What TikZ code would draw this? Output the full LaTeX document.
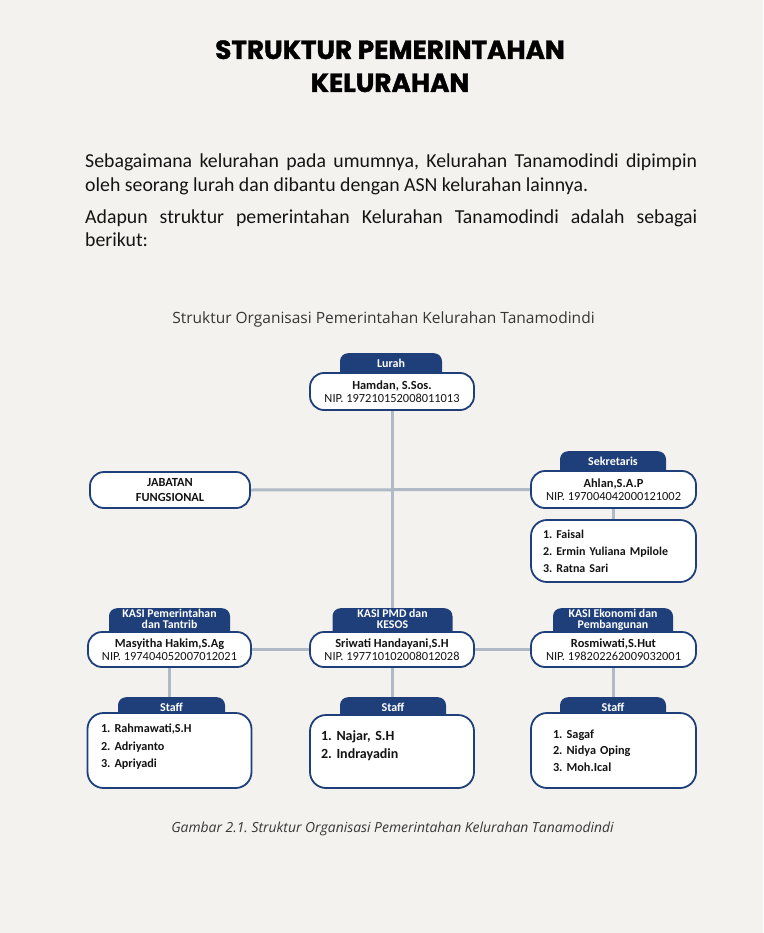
\documentclass[tikz,border=0pt]{standalone}
\usepackage{fontspec}
\setmainfont{Carlito}
\newfontfamily\titlefont{Poppins}[BoldFeatures={FakeBold=1.3}]
\newfontfamily\opensans{Open Sans}
\usepackage{xcolor}
\definecolor{kelNavy}  {RGB}{ 31,  63, 122}
\definecolor{kelPaper} {RGB}{243, 242, 238}
\definecolor{kelLink}  {RGB}{176, 186, 198}
\definecolor{kelInk}   {RGB}{ 20,  20,  20}
\usetikzlibrary{backgrounds}
\frenchspacing

\begin{document}
\begin{tikzpicture}[
  x=1pt, y=-1pt,
  tab/.style={fill=kelNavy, text=white, rounded corners=8pt, inner sep=0pt,
              anchor=north, align=center,
              font=\bfseries\fontsize{12}{12}\selectfont,
              text height=14pt, text depth=17pt},
  tabtwo/.style={tab, font=\bfseries\fontsize{11.8}{11}\selectfont,
                 text height=20.5pt, text depth=14pt},
  unit/.style={draw=kelNavy, line width=1.8pt, fill=white, rounded corners=14pt,
               minimum width=164pt, minimum height=37pt, inner sep=0pt,
               align=center, text=kelInk, font=\fontsize{12.4}{13.5}\selectfont},
  staff/.style={unit, align=left, rounded corners=16pt,
                font=\bfseries\fontsize{12}{17}\selectfont},
  link/.style={draw=kelLink, line width=3pt},
]
  % page
  \begin{pgfonlayer}{background}
    \fill[kelPaper] (0,0) rectangle (763,933);
  \end{pgfonlayer}
  \useasboundingbox (0,0) rectangle (763,933);

  % heading and intro text
  \node[anchor=base, align=center, inner sep=0pt, text=black,
        font=\titlefont\bfseries\fontsize{26.3}{33}\selectfont]
        (title) at (390,92) {STRUKTUR PEMERINTAHAN\\KELURAHAN};
  \node[anchor=base west, text width=612pt, align=justify, inner sep=0pt, text=kelInk,
        font=\fontsize{19.8}{24}\selectfont] (intro) at (85,168)
        {\hyphenpenalty=10000 Sebagaimana kelurahan pada umumnya, Kelurahan Tanamodindi dipimpin\linebreak
         oleh seorang lurah dan dibantu dengan ASN kelurahan lainnya.\par\vspace{7pt}
         Adapun struktur pemerintahan Kelurahan Tanamodindi adalah sebagai\linebreak berikut:};
  \node[anchor=base, inner sep=0pt, text=kelInk!85,
        font=\opensans\fontsize{15.5}{18}\selectfont]
        (charttitle) at (383.5,323.5) {Struktur Organisasi Pemerintahan Kelurahan Tanamodindi};

  % Lurah
  \node[tab, minimum width=102pt] (lurahT) at (391,353) {Lurah};
  \node[unit] (lurah) at (392,391.5) {\textbf{Hamdan, S.Sos.}\\NIP. 197210152008011013};

  % Jabatan fungsional and Sekretaris
  \node[unit, minimum width=160pt, minimum height=36pt, font=\bfseries\fontsize{12.4}{15}\selectfont]
        (jab) at (170,490) {JABATAN\\FUNGSIONAL};
  \node[tab, minimum width=106pt] (sekT) at (613,451) {Sekretaris};
  \node[unit, minimum width=165pt] (sek) at (613.5,489.5) {\textbf{Ahlan,S.A.P}\\NIP. 197004042000121002};
  \node[staff, text width=141pt, inner xsep=12pt, minimum height=62pt] (sekStaff) at (613.5,551)
        {1. Faisal\\2. Ermin Yuliana Mpilole\\3. Ratna Sari};

  % KASI row
  \node[tabtwo, minimum width=121pt] (kasiLT) at (169.5,608) {KASI Pemerintahan\\dan Tantrib};
  \node[tabtwo, minimum width=120pt] (kasiMT) at (392.5,608) {KASI PMD dan\\KESOS};
  \node[tabtwo, minimum width=120pt] (kasiRT) at (613,608) {KASI Ekonomi dan\\Pembangunan};
  \node[unit, minimum width=163pt, minimum height=35pt] (kasiL) at (169.5,649.5)
        {\textbf{Masyitha Hakim,S.Ag}\\NIP. 197404052007012021};
  \node[unit, minimum height=35pt] (kasiM) at (392,649.5)
        {\textbf{Sriwati Handayani,S.H}\\NIP. 197710102008012028};
  \node[unit, minimum width=165pt, minimum height=35pt] (kasiR) at (613.5,649.5)
        {\textbf{Rosmiwati,S.Hut}\\NIP. 198202262009032001};

  % Staff row
  \node[tab, minimum width=107pt] (staffLT) at (171.5,697) {Staff};
  \node[tab, minimum width=106pt] (staffMT) at (393,697) {Staff};
  \node[tab, minimum width=106pt] (staffRT) at (613,697) {Staff};
  \node[staff, text width=137pt, inner xsep=13pt, minimum height=75pt,
        font=\bfseries\fontsize{12.2}{17.5}\selectfont] (staffL) at (169.5,750.5)
        {1. Rahmawati,S.H\\2. Adriyanto\\3. Apriyadi\par\kern-8pt\hbox{}};
  \node[staff, text width=142pt, inner xsep=11pt, minimum height=73pt,
        font=\bfseries\fontsize{14}{18}\selectfont] (staffM) at (392,751.5)
        {1. Najar, S.H\\2. Indrayadin\par\kern-4pt\hbox{}};
  \node[staff, text width=121pt, inner xsep=22pt, minimum height=75pt,
        font=\bfseries\fontsize{12.3}{16.5}\selectfont] (staffR) at (613.5,750.5)
        {1. Sagaf\\2. Nidya Oping\\3. Moh.Ical};

  % caption
  \node[anchor=base, inner sep=0pt, text=kelInk!85,
        font=\opensans\itshape\fontsize{13.9}{16}\selectfont]
        (caption) at (392.5,832.5) {Gambar 2.1. Struktur Organisasi Pemerintahan Kelurahan Tanamodindi};

  % connectors behind the boxes
  \begin{pgfonlayer}{background}
    \draw[link] (lurah.south) -- (lurah.south |- kasiMT.north);
    \draw[link] (jab.east) -- (sek.west);
    \draw[link] (sek.south) -- (sekStaff.north);
    \draw[link] (kasiL.east) -- (kasiM.west);
    \draw[link] (kasiM.east) -- (kasiR.west);
    \draw[link] (kasiL.south) -- (kasiL.south |- staffLT.north);
    \draw[link] (kasiM.south) -- (kasiM.south |- staffMT.north);
    \draw[link] (kasiR.south) -- (kasiR.south |- staffRT.north);
  \end{pgfonlayer}
\end{tikzpicture}
\end{document}
